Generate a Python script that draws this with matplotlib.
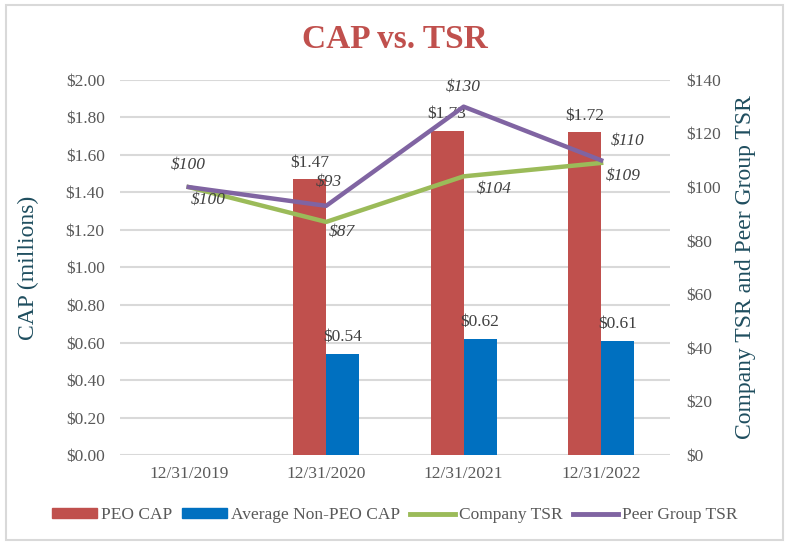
import numpy as np
import matplotlib.pyplot as plt
from matplotlib.patches import Rectangle, Patch
from matplotlib.lines import Line2D

# chart data
years = ["12/31/2019", "12/31/2020", "12/31/2021", "12/31/2022"]
peo_cap = [np.nan, 1.47, 1.73, 1.72]
non_peo_cap = [np.nan, 0.54, 0.62, 0.61]
company_tsr = [100, 87, 104, 109]
peer_tsr = [100, 93, 130, 110]

red = "#C0504D"
blue = "#0070C0"
green = "#9BBB59"
purple = "#8064A2"
tick_col = "#595959"
label_col = "#1F4E5F"

plt.rcParams['font.family'] = ['Liberation Serif', 'DejaVu Serif']

fig = plt.figure(figsize=(7.89, 5.47), dpi=100)
ax = fig.add_axes([0.152, 0.168, 0.697, 0.686])
ax2 = ax.twinx()

x = np.arange(len(years))
w = 0.24
b1 = ax.bar(x - w / 2, peo_cap, w, color=red, zorder=2)
b2 = ax.bar(x + w / 2, non_peo_cap, w, color=blue, zorder=2)

for bars, vals in [(b1, peo_cap), (b2, non_peo_cap)]:
    for rect, v in zip(bars, vals):
        if np.isnan(v):
            continue
        ax.annotate(f"${v:.2f}", (rect.get_x() + rect.get_width() / 2, v),
                    xytext=(0, 6), textcoords="offset points",
                    ha="center", va="bottom", fontsize=12.5, color="#404040")

ax.set_ylim(0, 2.0)
ax.set_yticks(np.arange(0, 2.01, 0.2))
ax.set_yticklabels([f"${v:.2f}" for v in np.arange(0, 2.01, 0.2)])
ax.set_xlim(-0.5, 3.5)
ax.set_xticks(x)
ax.set_xticklabels(years)
ax.grid(axis="y", color="#D9D9D9", linewidth=1.5, zorder=0)
ax.set_axisbelow(True)

ax2.plot(x, company_tsr, color=green, linewidth=3.2, zorder=3)
ax2.plot(x, peer_tsr, color=purple, linewidth=3.2, zorder=3)
ax2.set_ylim(0, 140)
ax2.set_yticks(np.arange(0, 141, 20))
ax2.set_yticklabels([f"${v}" for v in range(0, 141, 20)])

peer_off = [(0, 16), (2, 17), (0, 14), (19, 14)]
comp_off = [(14, -9), (11, -7), (22, -9), (16, -9)]
for i in range(len(years)):
    ax2.annotate(f"${peer_tsr[i]}", (x[i], peer_tsr[i]), xytext=peer_off[i],
                 textcoords="offset points", ha="center", va="center",
                 fontsize=12.5, style="italic", color="#404040")
    ax2.annotate(f"${company_tsr[i]}", (x[i], company_tsr[i]), xytext=comp_off[i],
                 textcoords="offset points", ha="center", va="center",
                 fontsize=12.5, style="italic", color="#404040")

for a in (ax, ax2):
    for s in a.spines.values():
        s.set_visible(False)
    a.tick_params(length=0, labelsize=12.5, labelcolor=tick_col)
ax.tick_params(axis="y", pad=11)
ax2.tick_params(axis="y", pad=12)
ax.tick_params(axis="x", pad=8)

ax.set_ylabel("CAP (millions)", fontsize=17, color=label_col, labelpad=19)
ax2.set_ylabel("Company TSR and Peer Group TSR", fontsize=17, color=label_col, labelpad=10)

fig.text(0.5, 0.927, "CAP vs. TSR", ha="center", va="center",
         fontsize=24, fontweight="bold", color=red)

handles = [Patch(color=red), Patch(color=blue),
           Line2D([], [], color=green, linewidth=3.5),
           Line2D([], [], color=purple, linewidth=3.5)]
names = ["PEO CAP", "Average Non-PEO CAP", "Company TSR", "Peer Group TSR"]
leg = fig.legend(handles, names, loc="center", bbox_to_anchor=(0.5, 0.058), ncol=4,
                 frameon=False, fontsize=12.5, handlelength=2.6, handleheight=0.55,
                 handletextpad=0.2, columnspacing=0.6)
for t in leg.get_texts():
    t.set_color(tick_col)

fig.patches.append(Rectangle((0.007, 0.012), 0.986, 0.978, transform=fig.transFigure,
                             fill=False, edgecolor="#D9D9D9", linewidth=1.5))

fig.savefig("out.png", dpi=100)
